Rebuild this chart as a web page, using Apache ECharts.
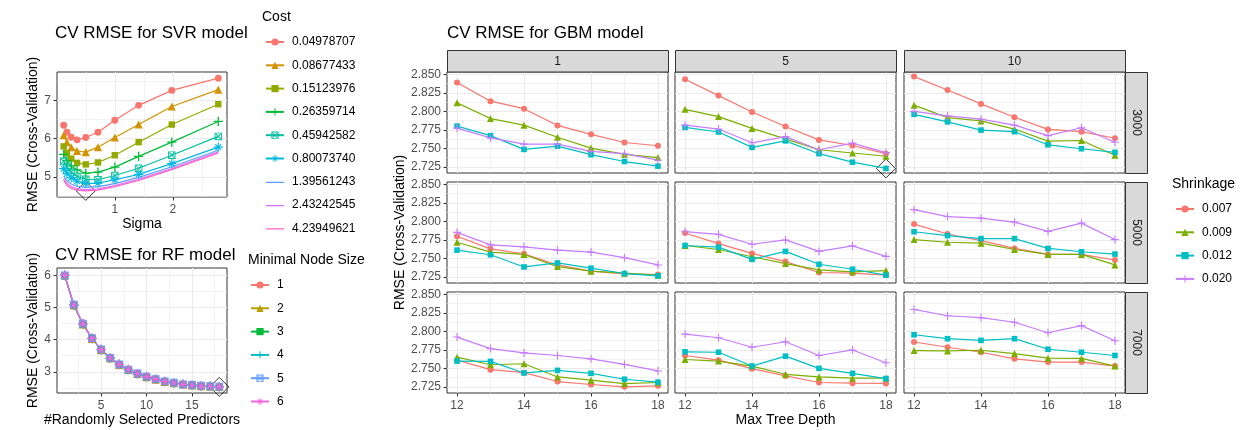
<!DOCTYPE html>
<html><head><meta charset="utf-8">
<script src="https://cdn.jsdelivr.net/npm/echarts@6/dist/echarts.min.js"></script>
<style>html,body{margin:0;padding:0;background:#fff}#c{width:1248px;height:430px}</style>
</head><body><div id="c"></div>
<script>
// ---------------- DATA ----------------
// SVR
const sigma = [0.12, 0.177, 0.25, 0.35, 0.5, 0.71, 1.0, 1.41, 1.98, 2.78];
const costLevels = ['0.04978707','0.08677433','0.15123976','0.26359714','0.45942582','0.80073740','1.39561243','2.43242545','4.23949621'];
const svrRmse = [
  [6.35, 6.17, 6.04, 5.97, 6.03, 6.17, 6.48, 6.87, 7.26, 7.58],
  [6.09, 5.91, 5.78, 5.68, 5.65, 5.78, 6.03, 6.37, 6.84, 7.28],
  [5.80, 5.63, 5.48, 5.37, 5.33, 5.38, 5.57, 5.91, 6.37, 6.90],
  [5.59, 5.43, 5.29, 5.19, 5.10, 5.13, 5.26, 5.54, 5.91, 6.45],
  [5.41, 5.26, 5.13, 5.02, 4.94, 4.93, 5.04, 5.23, 5.57, 6.06],
  [5.22, 5.09, 4.98, 4.89, 4.83, 4.84, 4.93, 5.07, 5.35, 5.78],
  [5.02, 4.90, 4.82, 4.76, 4.73, 4.75, 4.83, 4.99, 5.27, 5.70],
  [4.95, 4.83, 4.75, 4.70, 4.67, 4.69, 4.78, 4.94, 5.22, 5.66],
  [4.92, 4.78, 4.70, 4.66, 4.64, 4.66, 4.75, 4.91, 5.19, 5.63]
];
const svrBest = [0.5, 4.64];

// RF
const mtry = [1,2,3,4,5,6,7,8,9,10,11,12,13,14,15,16,17,18];
const nodeSizes = ['1','2','3','4','5','6'];
const rfNode1 = [5.99, 5.08, 4.49, 4.04, 3.69, 3.43, 3.23, 3.07, 2.94, 2.85, 2.77, 2.70, 2.65, 2.61, 2.58, 2.56, 2.55, 2.54];
const rfNode2 = [6.00, 5.07, 4.48, 4.03, 3.68, 3.42, 3.22, 3.06, 2.94, 2.84, 2.76, 2.69, 2.65, 2.61, 2.58, 2.56, 2.54, 2.53];
const rfNode3 = [5.98, 5.07, 4.48, 4.04, 3.69, 3.43, 3.22, 3.06, 2.93, 2.84, 2.76, 2.70, 2.65, 2.60, 2.58, 2.56, 2.55, 2.53];
const rfNode4 = [6.01, 5.08, 4.49, 4.04, 3.69, 3.42, 3.23, 3.07, 2.94, 2.85, 2.77, 2.70, 2.65, 2.61, 2.58, 2.56, 2.55, 2.54];
const rfNode5 = [6.00, 5.09, 4.50, 4.05, 3.70, 3.43, 3.23, 3.07, 2.95, 2.85, 2.77, 2.70, 2.66, 2.61, 2.59, 2.57, 2.55, 2.54];
const rfNode6 = [6.00, 5.08, 4.49, 4.04, 3.69, 3.43, 3.23, 3.07, 2.94, 2.85, 2.77, 2.70, 2.65, 2.61, 2.58, 2.56, 2.55, 2.53];
const rfBest = [18, 2.53];

// GBM (rows of each panel: shrinkage 0.007, 0.009, 0.012, 0.020)
const depth = [12,13,14,15,16,17,18];
const shrinkage = ['0.007','0.009','0.012','0.020'];
const stripCols = ['1','5','10'];
const stripRows = ['3000','5000','7000'];
const gbm_3000_1 = [
  [2.8389, 2.8137, 2.8035, 2.7809, 2.7689, 2.7578, 2.7534],
  [2.8114, 2.7902, 2.7813, 2.7649, 2.7503, 2.7418, 2.7374],
  [2.7800, 2.7671, 2.7485, 2.7529, 2.7414, 2.7321, 2.7259],
  [2.7773, 2.7640, 2.7556, 2.7556, 2.7458, 2.7427, 2.7339]];
const gbm_3000_5 = [
  [2.8434, 2.8212, 2.7990, 2.7795, 2.7613, 2.7538, 2.7427],
  [2.8026, 2.7928, 2.7769, 2.7627, 2.7480, 2.7436, 2.7392],
  [2.7782, 2.7720, 2.7512, 2.7600, 2.7427, 2.7312, 2.7228],
  [2.7813, 2.7760, 2.7574, 2.7658, 2.7480, 2.7569, 2.7441]];
const gbm_3000_10 = [
  [2.8469, 2.8287, 2.8100, 2.7919, 2.7755, 2.7724, 2.7636],
  [2.8083, 2.7915, 2.7870, 2.7760, 2.7596, 2.7605, 2.7405],
  [2.7959, 2.7857, 2.7746, 2.7724, 2.7547, 2.7494, 2.7445],
  [2.7999, 2.7937, 2.7893, 2.7813, 2.7671, 2.7777, 2.7582]];
const gbm_5000_1 = [
  [2.7797, 2.7628, 2.7561, 2.7410, 2.7326, 2.7290, 2.7281],
  [2.7717, 2.7584, 2.7552, 2.7388, 2.7326, 2.7299, 2.7272],
  [2.7610, 2.7548, 2.7383, 2.7437, 2.7366, 2.7294, 2.7263],
  [2.7850, 2.7681, 2.7655, 2.7610, 2.7584, 2.7508, 2.7410]];
const gbm_5000_5 = [
  [2.7842, 2.7699, 2.7566, 2.7455, 2.7308, 2.7299, 2.7272],
  [2.7673, 2.7619, 2.7521, 2.7428, 2.7343, 2.7317, 2.7334],
  [2.7673, 2.7650, 2.7486, 2.7593, 2.7419, 2.7352, 2.7272],
  [2.7859, 2.7824, 2.7690, 2.7748, 2.7593, 2.7668, 2.7526]];
const gbm_5000_10 = [
  [2.7962, 2.7828, 2.7739, 2.7633, 2.7552, 2.7552, 2.7477],
  [2.7753, 2.7717, 2.7704, 2.7619, 2.7552, 2.7552, 2.7410],
  [2.7859, 2.7806, 2.7766, 2.7766, 2.7633, 2.7588, 2.7557],
  [2.8157, 2.8064, 2.8042, 2.7988, 2.7864, 2.7975, 2.7753]];
const gbm_7000_1 = [
  [2.7610, 2.7481, 2.7441, 2.7321, 2.7281, 2.7250, 2.7263],
  [2.7650, 2.7548, 2.7561, 2.7383, 2.7339, 2.7294, 2.7308],
  [2.7597, 2.7593, 2.7437, 2.7472, 2.7432, 2.7352, 2.7312],
  [2.7922, 2.7766, 2.7708, 2.7673, 2.7628, 2.7552, 2.7464]];
const gbm_7000_5 = [
  [2.7673, 2.7610, 2.7495, 2.7397, 2.7308, 2.7299, 2.7295],
  [2.7619, 2.7597, 2.7530, 2.7419, 2.7383, 2.7366, 2.7366],
  [2.7722, 2.7717, 2.7530, 2.7664, 2.7499, 2.7432, 2.7361],
  [2.7962, 2.7913, 2.7784, 2.7859, 2.7673, 2.7748, 2.7575]];
const gbm_7000_10 = [
  [2.7855, 2.7784, 2.7717, 2.7628, 2.7584, 2.7584, 2.7530],
  [2.7739, 2.7735, 2.7744, 2.7699, 2.7637, 2.7633, 2.7530],
  [2.7953, 2.7900, 2.7877, 2.7900, 2.7757, 2.7717, 2.7673],
  [2.8295, 2.8210, 2.8184, 2.8122, 2.7980, 2.8077, 2.7873]];
const gbmBest = [18, 2.7228]; // in panel (5, 3000)

// tick labels
const svrXTicks = [1, 2], svrYTicks = [5, 6, 7];
const rfXTicks = [5, 10, 15], rfYTicks = [3, 4, 5, 6];
const gbmXTicks = [12, 14, 16, 18];
const gbmYTicks = [2.725, 2.750, 2.775, 2.800, 2.825, 2.850];

// ---------------- STYLE / LAYOUT ----------------
const FONT = '"Liberation Sans", Arial, Helvetica, sans-serif';
const PLUS = 'path://M4.3,0H5.7V4.3H10V5.7H5.7V10H4.3V5.7H0V4.3H4.3Z';
const SQX = 'path://M0,0H10V10H0Z M1.2,1.2V8.8H8.8V1.2Z M1.2,2.1L2.1,1.2L8.8,7.9L7.9,8.8Z M8.8,2.1L2.1,8.8L1.2,7.9L7.9,1.2Z';
const AST = 'path://M4.4,0H5.6V10H4.4Z M0,4.4H10V5.6H0Z M1.4,2.2L2.2,1.4L8.6,7.8L7.8,8.6Z M8.6,2.2L2.2,8.6L1.4,7.8L7.8,1.4Z';
const LINE_ICON = 'path://M0,0L0,0Z M0,4.4H18V5.6H0Z M18,9L18,9Z';
const SHAPES = ['circle', 'triangle', 'rect', PLUS, SQX, AST];
const SHAPE_SIZE = [6, 7, 5.6, 8, 6.5, 8];
const svrColors = ['#F8766D','#D39200','#93AA00','#00BA38','#00C19F','#00B9E3','#619CFF','#DB72FB','#FF61C3'];
const rfColors = ['#F8766D','#B79F00','#00BA38','#00BFC4','#619CFF','#F564E3'];
const gbmColors = ['#F8766D','#7CAE00','#00BFC4','#C77CFF'];

const grids = [], xAxes = [], yAxes = [], series = [];

function minorsOf(ticks, lo, hi) {
  const step = ticks[1] - ticks[0];
  const out = [];
  for (let v = ticks[0] - step / 2; v < hi; v += step) if (v > lo) out.push(+v.toFixed(6));
  return out;
}
function axisPair(gi, pos, range, major, showLbl, fmt, name, nameGap) {
  const main = {
    type: 'value', gridIndex: gi, position: pos, min: range[0], max: range[1],
    axisLine: { show: false },
    axisTick: { show: showLbl, customValues: major, length: 3.5, lineStyle: { color: '#333333', width: 1 } },
    axisLabel: { show: showLbl, customValues: major, formatter: fmt, color: '#4D4D4D', fontSize: 12, fontFamily: FONT,
      margin: pos === 'bottom' ? 7 : 6 },
    splitLine: { show: true, lineStyle: { color: '#EBEBEB', width: 1.1 } },
    minorTick: { show: false }, minorSplitLine: { show: false }
  };
  if (name) {
    main.name = name; main.nameLocation = 'middle'; main.nameGap = nameGap;
    main.nameTextStyle = { fontSize: 14, color: '#000', fontFamily: FONT };
    if (pos === 'left') main.nameRotate = 90;
  }
  const minor = {
    type: 'value', gridIndex: gi, position: pos, min: range[0], max: range[1], silent: true,
    axisLine: { show: false }, axisLabel: { show: false },
    axisTick: { show: false, customValues: minorsOf(major, range[0], range[1]) },
    splitLine: { show: true, lineStyle: { color: '#EBEBEB', width: 0.6 } },
    minorTick: { show: false }, minorSplitLine: { show: false }
  };
  return [main, minor];
}
function addPanel(rect, x, y) {
  const gi = grids.length;
  grids.push({ left: rect[0], top: rect[1], width: rect[2], height: rect[3], show: true,
    backgroundColor: '#fff', borderColor: '#333333', borderWidth: 1, containLabel: false, outerBoundsMode: 'none' });
  const xi = xAxes.length, yi = yAxes.length;
  xAxes.push(...axisPair(gi, 'bottom', x.range, x.ticks, x.show, x.fmt, x.name, x.gap));
  yAxes.push(...axisPair(gi, 'left', y.range, y.ticks, y.show, y.fmt, y.name, y.gap));
  return { xi, yi };
}
function addLine(ax, name, xs, ys, color, shapeIdx, scale) {
  const hasSym = shapeIdx != null;
  series.push({
    type: 'line', name, xAxisIndex: ax.xi, yAxisIndex: ax.yi,
    data: xs.map((v, i) => [v, ys[i]]),
    symbol: hasSym ? SHAPES[shapeIdx] : 'none',
    symbolSize: hasSym ? SHAPE_SIZE[shapeIdx] * scale : 0,
    showSymbol: hasSym,
    itemStyle: { color }, lineStyle: { color, width: 1.2 },
    emphasis: { disabled: true }, animation: false, clip: true
  });
}
function addBest(ax, pt) {
  series.push({
    type: 'scatter', xAxisIndex: ax.xi, yAxisIndex: ax.yi, data: [pt],
    symbol: 'diamond', symbolSize: [19, 19],
    itemStyle: { color: 'rgba(0,0,0,0)', borderColor: '#000', borderWidth: 1 },
    emphasis: { disabled: true }, animation: false, silent: true
  });
}
const fmtInt = v => String(v);
const fmt3 = v => v.toFixed(3);

// SVR panel
const svrAx = addPanel([57, 72, 170, 125],
  { range: [0.005, 2.93], ticks: svrXTicks, show: true, fmt: fmtInt, name: 'Sigma', gap: 17 },
  { range: [4.48, 7.74], ticks: svrYTicks, show: true, fmt: fmtInt, name: 'RMSE (Cross-Validation)', gap: 17 });
svrRmse.forEach((ys, i) => addLine(svrAx, costLevels[i], sigma, ys, svrColors[i], i < 6 ? i : null, 1.15));
addBest(svrAx, svrBest);

// RF panel
const rfAx = addPanel([57, 268, 170, 125],
  { range: [0.15, 18.85], ticks: rfXTicks, show: true, fmt: fmtInt, name: '#Randomly Selected Predictors', gap: 19 },
  { range: [2.34, 6.23], ticks: rfYTicks, show: true, fmt: fmtInt, name: 'RMSE (Cross-Validation)', gap: 17 });
[rfNode1, rfNode2, rfNode3, rfNode4, rfNode5, rfNode6].forEach((ys, i) => addLine(rfAx, nodeSizes[i], mtry, ys, rfColors[i], i, 1.2));
addBest(rfAx, rfBest);

// GBM panels
const GCOL = [447, 675, 904], GROW = [72, 182, 292], GW = 221, GH = 101;
const gbmPanels = [[gbm_3000_1, gbm_3000_5, gbm_3000_10], [gbm_5000_1, gbm_5000_5, gbm_5000_10], [gbm_7000_1, gbm_7000_5, gbm_7000_10]];
const graphics = [];
for (let r = 0; r < 3; r++) {
  for (let c = 0; c < 3; c++) {
    const ax = addPanel([GCOL[c], GROW[r], GW, GH],
      { range: [11.7, 18.3], ticks: gbmXTicks, show: r === 2, fmt: fmtInt,
        name: (r === 2 && c === 1) ? 'Max Tree Depth' : null, gap: 19 },
      { range: [2.7166, 2.8531], ticks: gbmYTicks, show: c === 0, fmt: fmt3,
        name: (r === 1 && c === 0) ? 'RMSE (Cross-Validation)' : null, gap: 38 });
    gbmPanels[r][c].forEach((ys, i) => addLine(ax, shrinkage[i], depth, ys, gbmColors[i], i, 1.0));
    if (r === 0 && c === 1) addBest(ax, gbmBest);
  }
}
// strips
for (let c = 0; c < 3; c++) {
  graphics.push({ type: 'rect', silent: true, z: 10, shape: { x: GCOL[c] + 0.5, y: 50.5, width: GW, height: 21.5 },
    style: { fill: '#D9D9D9', stroke: '#333333', lineWidth: 1 } });
  graphics.push({ type: 'text', silent: true, z: 11, x: GCOL[c] + GW / 2, y: 61.5,
    style: { text: stripCols[c], fill: '#1A1A1A', font: '12px ' + FONT, align: 'center', verticalAlign: 'middle', textAlign: 'center', textVerticalAlign: 'middle' } });
}
for (let r = 0; r < 3; r++) {
  graphics.push({ type: 'rect', silent: true, z: 10, shape: { x: GCOL[2] + GW + 0.5, y: GROW[r] + 0.5, width: 22, height: GH },
    style: { fill: '#D9D9D9', stroke: '#333333', lineWidth: 1 } });
  graphics.push({ type: 'text', silent: true, z: 11, x: GCOL[2] + GW + 11.5, y: GROW[r] + GH / 2, rotation: -Math.PI / 2,
    style: { text: stripRows[r], fill: '#1A1A1A', font: '12px ' + FONT, align: 'center', verticalAlign: 'middle', textAlign: 'center', textVerticalAlign: 'middle' } });
}

const titleStyle = (size) => ({ fontSize: size, fontWeight: 'normal', color: '#000', fontFamily: FONT });
const titles = [
  { text: 'CV RMSE for SVR model', left: 55, top: 25, padding: 0, textStyle: titleStyle(17) },
  { text: 'CV RMSE for RF model', left: 55, top: 247, padding: 0, textStyle: titleStyle(17) },
  { text: 'CV RMSE for GBM model', left: 447, top: 25, padding: 0, textStyle: titleStyle(17) },
  { text: 'Cost', left: 262, top: 10, padding: 0, textStyle: titleStyle(14) },
  { text: 'Minimal Node Size', left: 248, top: 253, padding: 0, textStyle: titleStyle(14) },
  { text: 'Shrinkage', left: 1172, top: 177, padding: 0, textStyle: titleStyle(14) }
];
const legendBase = { orient: 'vertical', itemWidth: 18, itemHeight: 9, itemGap: 9.3, selectedMode: false, padding: 0,
  textStyle: { fontSize: 12, color: '#000', fontFamily: FONT, lineHeight: 14, padding: [0, 0, 0, 3] } };
const legends = [
  Object.assign({}, legendBase, { data: costLevels.map((n, i) => i < 6 ? n : { name: n, icon: LINE_ICON }), left: 265, top: 35 }),
  Object.assign({}, legendBase, { data: nodeSizes, left: 250, top: 278 }),
  Object.assign({}, legendBase, { data: shrinkage, left: 1175, top: 202 })
];

const chart = echarts.init(document.getElementById('c'), null, { renderer: 'canvas' });
chart.setOption({
  animation: false, backgroundColor: '#fff',
  title: titles, legend: legends, grid: grids, xAxis: xAxes, yAxis: yAxes, series, graphic: graphics
});
</script></body></html>
